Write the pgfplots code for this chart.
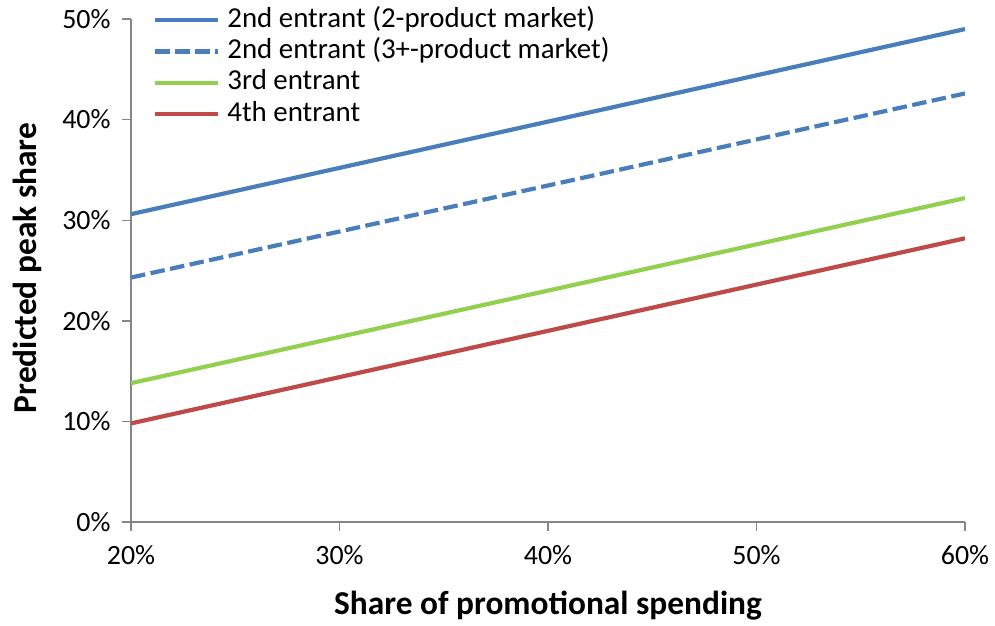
\documentclass[border=0pt]{standalone}
\usepackage{pgfplots}
\pgfplotsset{compat=1.18}
\usepackage{fontspec}
\setmainfont{Carlito}

\definecolor{entblue}{HTML}{4A7EBB}
\definecolor{entgreen}{HTML}{92D050}
\definecolor{entred}{HTML}{BE4B48}
\definecolor{axgray}{HTML}{868686}

\begin{document}
\begin{tikzpicture}
\begin{axis}[
  scale only axis,
  width=834bp, height=503bp,
  xmin=20, xmax=60, ymin=0, ymax=50,
  xtick={20,30,40,50,60},
  ytick={0,10,20,30,40,50},
  xticklabel={\pgfmathprintnumber{\tick}\%},
  yticklabel={\pgfmathprintnumber{\tick}\%},
  /pgf/number format/assume math mode=true,
  axis x line*=bottom, axis y line*=left,
  axis line style={-, draw=axgray, line width=1.4bp},
  tick style={draw=axgray, line width=1.4bp},
  tick align=outside,
  major tick length=9bp,
  ticklabel style={font=\fontsize{28}{32}\selectfont},
  xticklabel style={yshift=-11bp},
  yticklabel style={xshift=-8bp},
  xlabel={Share of promotional spending},
  ylabel={Predicted peak share},
  label style={font=\bfseries\fontsize{33.5}{38}\selectfont},
  xlabel style={at={(axis description cs:0.5,0)}, anchor=center, yshift=-84bp},
  ylabel style={at={(axis description cs:0,0.505)}, anchor=center, yshift=104bp},
  legend style={
    at={(axis description cs:0,1)}, anchor=north west,
    xshift=22bp, yshift=12bp,
    draw=none, fill=none, inner sep=0pt,
    font=\fontsize{29}{33}\selectfont,
    nodes={inner sep=0pt, text height=20bp, text depth=6bp},
    row sep=5.3bp,
    /tikz/every odd column/.append style={column sep=7bp},
  },
  legend cell align=left,
  legend image code/.code={\draw[#1] (0bp,0bp) -- (63bp,0bp);},
]
\addplot[entblue, line width=4.2bp] coordinates {(20,30.6) (60,49.0)};
\addlegendentry{2nd entrant (2-product market)}
\addplot[entblue, line width=4.2bp, dash pattern=on 14.5bp off 5.5bp] coordinates {(20,24.3) (60,42.6)};
\addlegendentry{2nd entrant (3+-product market)}
\addplot[entgreen, line width=4.2bp] coordinates {(20,13.8) (60,32.2)};
\addlegendentry{3rd entrant}
\addplot[entred, line width=4.2bp] coordinates {(20,9.8) (60,28.2)};
\addlegendentry{4th entrant}
\end{axis}
\pgfresetboundingbox
\path[use as bounding box] (-131bp,-104bp) rectangle (864bp,522bp);
\end{tikzpicture}
\end{document}
